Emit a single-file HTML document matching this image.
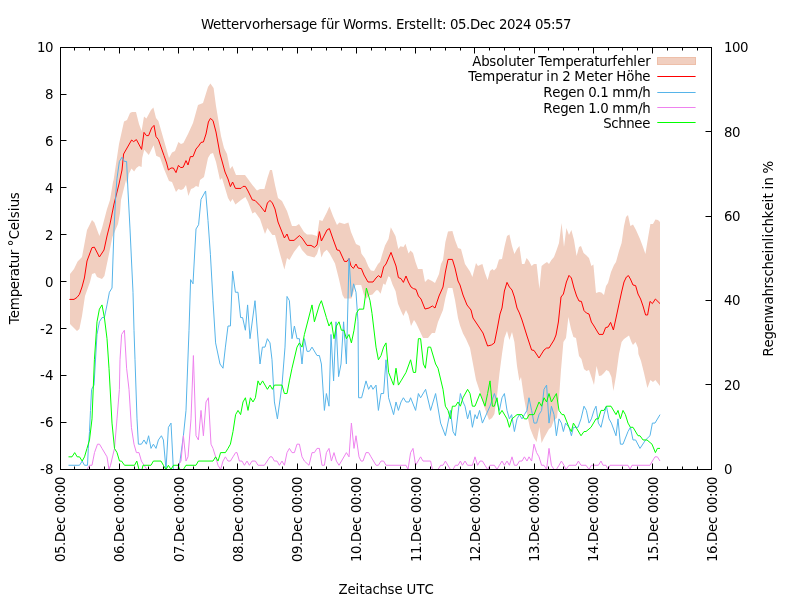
<!DOCTYPE html>
<html lang="de"><head><meta charset="utf-8"><title>Wettervorhersage für Worms</title>
<style>html,body{margin:0;padding:0;background:#fff;}svg{display:block;}text{font-family:"DejaVu Sans","Liberation Sans",sans-serif;font-size:13.33px;fill:#000;white-space:pre;}</style></head><body>
<svg width="800" height="600" viewBox="0 0 800 600">
<rect width="800" height="600" fill="#fff"/>
<clipPath id="c"><rect x="60.5" y="47.5" width="651.0" height="422.0"/></clipPath>
<g clip-path="url(#c)">
<polygon points="70.0,274.0 74.0,269.0 77.6,261.6 82.0,257.0 87.0,230.0 92.0,220.0 94.4,222.4 99.4,236.0 102.0,228.0 107.0,209.0 110.0,200.0 113.0,182.0 113.6,180.0 119.0,144.0 124.0,121.4 127.0,120.0 130.0,113.0 132.0,112.0 136.0,112.0 139.0,124.0 141.6,131.0 144.0,116.4 146.4,118.4 151.0,110.0 153.4,107.4 156.0,118.0 158.4,121.0 169.0,158.0 172.0,152.4 175.0,151.0 178.4,142.0 181.0,144.0 183.4,143.0 188.0,134.0 193.0,123.0 198.0,105.0 203.0,103.0 208.0,87.0 210.4,83.6 213.6,88.0 216.0,106.0 221.0,136.0 224.0,148.0 227.0,154.0 230.0,169.0 232.4,166.0 236.0,175.0 245.0,175.0 248.0,179.0 252.4,185.0 257.0,190.4 260.0,189.0 264.4,189.0 267.4,178.0 270.0,170.0 272.0,170.0 275.0,185.0 278.0,198.0 282.0,201.0 287.0,211.0 292.0,226.0 296.0,226.0 299.0,224.0 304.0,232.0 307.0,234.4 312.0,234.4 317.0,236.0 319.4,220.0 322.4,221.0 327.0,212.0 329.4,206.6 333.0,216.0 337.0,225.0 339.4,222.4 344.4,224.0 348.4,222.4 351.0,232.0 356.0,244.0 360.0,246.0 361.4,253.6 365.0,258.6 368.6,267.0 371.0,270.6 374.0,271.0 378.0,264.0 380.0,262.0 382.0,255.0 385.0,245.5 388.5,239.0 390.8,227.3 395.5,236.0 398.3,249.0 400.5,246.2 403.5,247.0 405.5,243.7 408.5,253.5 410.5,250.5 413.0,253.0 415.5,262.0 418.0,269.0 422.5,269.0 425.0,282.0 428.0,279.0 432.0,281.0 435.0,283.0 439.0,274.0 441.0,264.0 443.0,260.0 445.4,242.0 448.0,231.4 452.4,231.0 455.0,240.0 458.0,248.0 461.0,249.0 465.0,264.0 470.0,271.6 472.4,277.0 476.0,263.0 478.0,266.0 480.0,265.0 482.4,264.0 485.0,273.0 487.6,280.0 490.0,271.0 492.4,269.0 494.0,270.4 496.4,268.0 499.0,259.6 502.0,259.0 504.4,247.0 507.0,236.0 509.4,234.4 512.0,246.0 514.4,254.0 517.0,249.0 519.4,246.0 522.0,264.0 524.4,264.0 526.6,258.0 529.0,261.0 531.6,266.0 534.0,264.0 536.6,264.0 539.4,289.0 541.6,266.0 544.0,264.0 547.0,262.0 549.0,264.0 551.4,260.0 554.0,257.0 556.6,250.0 559.0,243.0 561.6,223.0 564.0,247.0 566.4,228.0 569.0,235.0 571.4,230.0 574.0,240.0 576.6,256.0 579.0,247.0 581.0,246.0 583.6,253.0 586.0,255.0 589.0,258.0 591.4,266.0 593.4,264.4 596.0,293.0 599.0,292.0 601.4,292.4 604.0,295.0 606.0,286.0 608.0,283.0 611.0,272.0 614.0,265.0 616.0,262.0 619.0,251.0 621.6,243.0 624.0,226.0 626.0,217.0 628.0,215.0 630.4,226.0 633.0,224.4 636.0,230.0 640.0,239.0 643.0,247.0 645.4,254.0 648.0,238.0 650.4,224.0 653.0,224.0 655.4,219.4 658.0,220.0 660.0,222.0 660.0,386.0 655.4,380.0 653.0,382.0 650.4,380.0 647.4,388.0 644.0,373.0 641.0,361.0 638.4,354.0 638.0,348.0 635.6,342.0 633.0,345.0 631.4,342.0 629.0,335.6 624.0,339.0 621.6,342.0 619.0,354.0 616.0,376.0 613.4,391.0 611.4,377.0 609.0,371.6 606.4,370.0 604.0,373.0 601.4,375.6 599.0,376.0 596.6,366.0 594.0,385.0 591.4,377.0 589.0,370.0 586.4,371.0 584.0,369.0 581.4,359.0 579.0,356.0 576.0,338.0 573.4,337.0 571.0,329.0 568.4,317.0 566.0,338.0 563.4,342.0 561.0,370.0 559.0,398.0 557.0,418.0 554.0,420.0 551.4,427.0 549.0,429.0 544.0,438.0 541.6,443.0 539.4,427.0 536.6,442.0 534.0,438.0 530.0,428.0 527.0,414.0 524.0,398.0 521.0,377.0 519.4,381.0 517.0,366.0 514.4,342.0 512.0,332.0 509.4,340.0 507.0,331.0 504.4,338.0 502.0,354.0 499.4,374.0 497.0,396.0 494.4,414.0 492.0,418.0 489.0,420.0 484.0,406.0 480.0,392.0 476.0,380.0 473.0,364.0 470.0,348.0 466.0,339.0 463.0,333.6 460.0,325.6 458.0,318.0 455.0,300.0 452.4,288.0 448.0,288.0 445.4,298.0 443.0,310.0 438.0,322.0 435.0,333.0 432.0,333.0 428.0,338.0 423.0,338.0 418.4,328.0 416.0,323.0 414.0,320.0 411.0,326.0 408.4,315.0 406.0,310.0 403.4,316.0 401.0,311.0 400.6,310.0 398.0,303.8 395.6,291.2 392.5,284.4 390.0,277.2 388.4,276.2 385.3,285.0 383.4,283.4 380.6,293.8 378.0,290.3 376.2,290.3 372.5,294.4 368.8,295.6 366.2,298.8 363.8,294.4 361.2,285.0 355.5,285.0 351.5,298.5 344.5,298.5 342.5,295.0 338.8,278.5 335.0,263.5 329.8,253.8 326.8,249.8 323.8,252.2 321.4,257.4 319.4,246.0 317.0,254.0 314.4,257.4 307.0,255.4 302.0,250.0 299.4,245.0 294.0,252.0 289.4,260.0 287.0,258.0 284.4,269.4 280.0,254.0 275.0,235.0 272.4,235.0 267.4,228.0 265.0,234.0 260.0,219.0 255.0,212.0 252.4,213.6 248.0,202.0 245.4,197.0 241.0,200.0 235.4,204.4 232.6,199.0 230.4,202.0 228.0,198.0 225.0,188.0 222.0,178.0 220.0,180.0 216.0,162.0 213.0,153.0 210.4,154.0 208.0,158.0 204.0,177.0 200.0,180.0 198.6,187.0 196.0,186.0 193.6,188.0 191.0,189.0 188.4,196.0 186.0,185.0 183.4,189.0 181.0,190.0 178.4,189.0 176.0,192.0 172.0,182.0 169.0,181.0 164.0,169.0 160.0,157.6 156.2,155.8 153.6,145.2 148.8,155.0 144.2,149.8 142.2,158.0 141.6,167.0 139.0,165.9 136.4,168.1 134.1,171.5 131.5,168.5 128.9,173.8 127.3,185.0 126.0,180.0 121.0,200.0 120.0,213.0 118.0,224.0 112.4,237.0 109.0,254.0 104.4,276.0 102.0,279.0 97.0,277.0 95.0,273.0 92.0,274.0 90.0,282.0 85.0,296.0 82.0,316.0 79.4,329.0 77.0,331.0 70.0,324.0" fill="#f1cfc0" stroke="none"/>
<polyline points="69.4,299.40 74.0,299.40 77.0,297.40 79.4,294.40 82.0,287.00 84.4,278.00 87.0,261.00 92.0,247.60 94.4,247.20 99.4,257.00 104.0,250.00 107.0,236.00 110.0,224.00 114.0,204.00 119.0,184.00 122.0,170.00 123.6,154.00 131.6,140.00 133.6,141.60 136.4,139.60 141.6,149.40 144.0,132.40 146.4,135.60 148.6,135.60 151.6,128.00 154.0,125.40 156.0,136.60 158.4,139.60 164.0,155.60 166.6,163.00 168.4,170.00 171.0,168.00 173.4,168.00 176.0,172.60 178.4,165.40 180.8,167.60 183.2,167.20 186.0,160.60 188.0,165.00 190.4,156.60 193.0,156.60 196.0,149.00 198.6,146.00 201.0,142.40 203.4,142.00 206.0,134.00 208.4,122.00 210.4,118.40 213.0,120.60 216.0,132.00 220.0,154.00 222.0,161.00 225.0,172.00 228.0,179.00 230.4,186.60 232.6,182.00 235.4,188.40 241.0,188.40 243.0,186.40 245.4,186.40 248.0,191.00 252.4,200.00 255.0,200.40 260.0,205.60 265.0,212.00 267.4,203.00 270.0,200.40 272.4,203.00 275.0,209.00 278.0,222.00 282.0,232.00 284.4,238.00 287.0,234.00 289.4,240.40 294.0,240.40 299.4,235.60 302.0,238.00 307.0,245.40 311.0,245.40 314.4,247.40 317.0,245.00 319.4,231.60 321.4,241.00 327.0,230.00 329.4,228.60 333.0,239.00 337.0,250.00 339.4,250.40 344.4,261.40 347.0,261.40 349.0,258.60 351.0,266.00 353.4,268.40 356.0,264.00 358.0,268.00 360.0,268.40 361.4,268.60 364.0,275.00 368.0,282.00 373.0,282.00 376.0,278.00 378.4,275.60 381.0,277.60 383.6,267.00 386.0,264.00 391.0,252.40 396.0,266.00 398.4,277.60 401.0,278.60 403.4,282.40 406.0,276.00 408.4,282.00 411.0,287.00 413.4,288.60 416.0,289.40 418.4,296.00 421.0,299.00 425.0,309.00 429.0,308.00 432.4,306.00 435.0,308.00 439.0,296.00 443.0,287.00 445.4,272.00 448.0,259.40 452.4,259.40 455.0,268.00 458.0,281.00 460.0,285.00 463.0,295.00 467.0,305.00 471.0,310.00 473.0,318.00 479.0,327.00 483.0,333.00 487.6,346.00 491.4,345.00 494.4,343.00 497.0,330.00 500.0,314.00 502.0,308.00 504.4,291.00 507.0,282.40 509.4,287.00 512.0,290.00 514.4,297.00 517.0,308.00 519.4,313.00 522.0,320.00 527.0,336.00 531.6,350.00 534.0,350.40 539.0,358.00 544.0,350.00 546.6,348.00 549.0,348.00 554.0,340.00 556.0,335.00 558.4,322.00 561.0,297.00 563.4,294.00 566.4,282.00 569.0,275.40 571.4,278.00 574.0,288.00 576.6,296.00 579.0,301.00 581.4,301.40 584.0,310.60 586.4,313.00 589.0,314.00 591.4,322.00 594.0,326.00 599.0,334.40 603.0,334.40 605.6,327.60 608.0,327.00 610.6,322.40 613.4,330.00 616.0,318.00 619.0,304.00 621.6,292.00 624.0,282.00 626.4,277.00 628.4,275.60 630.4,279.00 633.0,285.00 635.6,285.60 638.0,294.00 640.6,299.00 643.0,306.00 645.6,315.00 647.6,315.00 650.0,301.40 652.4,303.60 655.4,299.00 660.0,303.60" fill="none" stroke="#ff0000" stroke-width="1" stroke-linejoin="round"/>
<polyline points="68.5,465.28 79.5,465.28 82.2,461.06 84.5,465.28 87.5,465.28 88.3,448.40 89.5,431.52 90.5,410.42 91.6,389.32 94.0,385.10 97.0,334.46 99.4,321.80 102.0,317.58 104.4,317.58 107.0,304.92 109.4,292.26 112.0,288.04 114.0,228.96 116.0,190.98 117.0,178.32 119.4,161.44 122.0,157.22 124.4,161.44 126.6,161.44 128.0,190.98 130.0,228.96 133.0,292.26 134.0,330.24 135.0,359.78 137.0,418.86 138.4,444.18 141.4,444.18 144.0,439.96 146.4,444.18 148.6,435.74 151.0,448.40 153.4,444.18 156.0,448.40 158.4,439.96 161.4,435.74 163.4,439.96 166.0,469.50 168.4,427.30 171.0,423.08 173.4,469.50 178.0,469.50 180.0,461.06 183.4,435.74 186.0,410.42 189.0,330.24 190.6,279.60 193.0,283.82 196.0,228.96 198.6,224.74 201.0,199.42 205.6,190.98 208.0,220.52 210.4,254.28 213.0,300.70 215.6,342.90 220.0,364.00 223.0,368.22 225.4,347.12 228.0,326.02 230.4,326.02 232.6,271.16 235.4,292.26 238.0,292.26 240.6,317.58 242.6,317.58 245.4,330.24 247.6,304.92 250.0,338.68 255.0,300.70 260.0,364.00 262.4,347.12 265.0,347.12 267.4,338.68 270.0,342.90 272.0,359.78 274.4,401.98 277.4,418.86 282.0,385.10 285.0,347.12 287.0,296.48 289.4,300.70 292.0,338.68 294.4,326.02 297.0,338.68 299.4,338.68 302.0,364.00 304.4,338.68 307.0,351.34 309.4,351.34 312.0,347.12 317.0,355.56 319.4,355.56 321.4,364.00 324.4,410.42 326.4,393.54 329.0,406.20 331.0,334.46 333.6,380.88 336.0,321.80 338.6,376.66 341.0,364.00 343.6,321.80 346.4,364.00 349.0,258.50 351.4,296.48 353.6,283.82 356.0,292.26 358.0,321.80 358.6,397.76 361.6,397.76 366.0,380.88 368.6,389.32 371.0,385.10 373.0,389.32 376.0,385.10 378.4,410.42 381.0,393.54 383.6,393.54 386.0,359.78 388.6,397.76 393.6,414.64 396.0,401.98 398.4,410.42 401.0,401.98 403.4,397.76 406.0,401.98 409.0,401.98 410.6,397.76 415.6,410.42 418.4,393.54 420.6,397.76 425.6,389.32 430.6,410.42 435.6,393.54 440.6,423.08 445.4,435.74 450.4,410.42 453.0,431.52 455.4,435.74 460.4,393.54 463.0,401.98 465.0,406.20 467.6,418.86 470.0,410.42 472.4,427.30 475.0,414.64 477.0,418.86 479.6,410.42 482.4,423.08 490.0,406.20 494.4,393.54 497.0,401.98 499.4,410.42 502.0,397.76 504.4,393.54 507.0,410.42 509.4,418.86 511.6,414.64 514.4,431.52 517.0,418.86 519.4,414.64 522.0,418.86 524.4,414.64 527.0,410.42 529.0,397.76 531.6,410.42 534.0,423.08 536.6,423.08 539.0,414.64 541.6,410.42 544.0,389.32 546.6,385.10 549.0,423.08 551.4,406.20 554.0,414.64 556.4,435.74 559.0,418.86 561.4,423.08 563.4,431.52 565.6,423.08 569.0,427.30 571.4,435.74 573.4,427.30 578.0,427.30 581.0,418.86 584.0,406.20 586.4,410.42 589.0,423.08 591.4,418.86 594.0,410.42 596.0,406.20 598.4,423.08 601.0,427.30 604.0,414.64 606.4,406.20 609.0,418.86 611.4,423.08 616.0,435.74 618.0,418.86 620.4,444.18 623.0,444.18 628.0,431.52 630.4,427.30 633.0,439.96 635.6,439.96 640.0,448.40 645.6,439.96 650.0,435.74 652.4,423.08 655.0,423.08 660.0,414.64" fill="none" stroke="#56b4e9" stroke-width="1" stroke-linejoin="round"/>
<polyline points="68.5,469.50 87.0,469.50 89.5,465.28 92.0,465.28 94.5,452.62 97.5,444.18 99.5,444.18 102.0,448.40 107.0,456.84 109.0,469.50 110.5,465.28 114.5,448.40 117.0,418.86 119.4,389.32 120.0,359.78 121.6,334.46 124.4,330.24 126.6,368.22 129.0,389.32 131.4,427.30 134.0,444.18 136.4,452.62 139.0,452.62 141.4,461.06 144.0,465.28 147.0,469.50 178.0,469.50 178.4,465.28 181.0,461.06 183.4,435.74 186.0,461.06 188.0,456.84 191.0,418.86 193.4,355.56 196.0,435.74 198.4,439.96 201.0,410.42 203.4,435.74 206.0,401.98 208.4,397.76 211.0,444.18 213.0,448.40 215.6,456.84 218.0,465.28 220.6,469.50 223.0,461.06 225.4,456.84 228.0,461.06 230.4,461.06 233.0,456.84 235.6,452.62 237.0,452.62 239.4,461.06 242.0,461.06 244.4,465.28 247.0,461.06 249.4,465.28 252.0,461.06 255.4,461.06 258.0,465.28 264.4,465.28 270.0,456.84 272.0,456.84 274.4,461.06 277.0,461.06 279.4,465.28 282.0,461.06 284.4,465.28 287.0,452.62 289.4,448.40 292.0,452.62 294.4,452.62 297.0,444.18 299.4,444.18 302.0,456.84 304.4,461.06 309.0,465.28 312.0,452.62 314.4,452.62 317.0,448.40 319.4,448.40 322.0,465.28 324.4,465.28 326.4,452.62 329.0,448.40 331.4,461.06 334.0,452.62 336.4,461.06 339.0,465.28 346.4,452.62 349.0,456.84 351.4,423.08 354.0,448.40 356.0,435.74 359.0,456.84 361.0,461.06 363.0,461.06 366.0,452.62 368.6,452.62 371.0,456.84 376.0,465.28 378.4,465.28 381.0,461.06 383.6,461.06 386.0,465.28 406.0,465.28 408.0,469.50 410.6,452.62 413.0,448.40 415.6,465.28 420.6,456.84 423.0,461.06 430.6,461.06 432.4,469.50 438.0,469.50 440.6,465.28 443.0,465.28 445.4,461.06 450.4,469.50 453.0,469.50 455.4,465.28 458.0,465.28 460.4,461.06 462.4,465.28 465.0,461.06 467.6,465.28 472.4,465.28 475.0,456.84 477.6,465.28 480.0,461.06 482.4,461.06 485.0,465.28 487.6,469.50 490.0,465.28 494.4,465.28 497.0,469.50 499.4,465.28 502.0,461.06 504.4,465.28 507.0,461.06 509.4,465.28 512.0,456.84 514.4,465.28 517.0,465.28 519.4,461.06 522.0,461.06 524.4,456.84 527.0,461.06 529.0,456.84 531.6,461.06 534.0,444.18 536.6,452.62 539.0,456.84 541.6,465.28 544.0,465.28 546.6,469.50 549.0,448.40 551.4,465.28 554.0,469.50 556.4,469.50 559.0,465.28 561.4,461.06 564.0,465.28 566.0,469.50 569.0,465.28 576.0,465.28 578.4,461.06 581.0,465.28 586.0,465.28 589.0,469.50 591.4,465.28 598.4,465.28 601.0,461.06 603.0,465.28 606.0,465.28 608.0,469.50 610.0,465.28 628.0,465.28 630.0,469.50 632.0,465.28 640.0,465.28 650.0,465.28 652.4,461.06 655.0,456.84 657.4,456.84 660.0,461.06" fill="none" stroke="#ee82ee" stroke-width="1" stroke-linejoin="round"/>
<polyline points="68.5,456.84 72.0,456.84 74.7,452.62 77.2,456.84 79.5,456.84 82.2,461.06 84.5,456.84 87.0,448.40 89.5,439.96 92.0,418.86 94.4,359.78 97.0,321.80 99.4,309.14 102.0,304.92 104.4,317.58 107.0,338.68 109.0,368.22 112.0,423.08 114.5,448.40 117.0,452.62 119.5,461.06 121.5,461.06 124.5,465.28 134.5,465.28 136.8,461.06 139.0,469.50 142.0,469.50 143.0,465.28 151.0,465.28 153.4,461.06 161.0,461.06 163.4,465.28 166.0,469.50 168.4,465.28 171.0,469.50 173.4,465.28 178.0,465.28 180.0,469.50 183.4,469.50 186.0,465.28 196.0,465.28 198.4,461.06 213.0,461.06 215.6,456.84 218.0,461.06 220.6,452.62 225.4,452.62 228.0,448.40 230.4,444.18 233.0,431.52 235.6,414.64 238.0,410.42 240.6,414.64 243.0,401.98 245.4,397.76 248.0,410.42 250.4,397.76 253.0,401.98 255.4,397.76 258.0,380.88 260.0,385.10 262.6,380.88 267.4,389.32 270.0,385.10 272.4,389.32 274.4,385.10 282.0,385.10 284.4,393.54 287.0,393.54 289.4,380.88 292.0,368.22 297.0,347.12 299.4,342.90 302.0,347.12 304.4,334.46 312.0,304.92 314.4,321.80 319.4,304.92 321.4,300.70 326.4,317.58 329.0,326.02 331.4,321.80 334.0,338.68 336.4,326.02 339.0,321.80 341.4,330.24 344.0,330.24 346.4,338.68 349.0,334.46 351.4,342.90 354.0,330.24 356.4,313.36 359.0,309.14 363.6,309.14 366.4,288.04 370.0,300.70 372.0,313.36 376.0,347.12 378.4,359.78 381.0,355.56 383.6,347.12 386.0,342.90 388.6,372.44 393.6,385.10 396.0,368.22 398.4,385.10 401.0,380.88 406.0,372.44 410.6,359.78 413.4,372.44 415.6,372.44 418.4,338.68 420.6,338.68 423.4,364.00 425.4,368.22 428.0,347.12 430.6,347.12 435.6,364.00 438.0,368.22 443.0,389.32 445.4,406.20 448.0,410.42 450.4,418.86 452.4,406.20 455.4,406.20 458.0,401.98 460.4,406.20 463.0,397.76 467.6,389.32 470.0,393.54 472.4,406.20 475.0,406.20 480.0,393.54 485.0,406.20 487.6,393.54 490.0,380.88 492.4,406.20 494.4,406.20 497.0,397.76 499.4,414.64 502.0,410.42 507.0,418.86 509.4,427.30 512.0,418.86 517.0,414.64 522.0,414.64 524.4,418.86 527.0,418.86 529.0,414.64 534.0,414.64 539.0,401.98 541.6,406.20 544.0,397.76 546.6,401.98 549.0,393.54 551.4,401.98 556.4,393.54 559.0,410.42 562.0,414.64 564.0,414.64 569.0,427.30 571.4,431.52 573.4,423.08 576.0,427.30 581.0,435.74 584.0,431.52 586.0,431.52 591.0,427.30 596.0,418.86 598.4,418.86 601.0,410.42 604.0,410.42 606.4,406.20 611.0,406.20 616.0,414.64 618.0,410.42 620.4,418.86 623.0,410.42 625.4,414.64 628.0,423.08 630.4,427.30 633.0,427.30 638.0,435.74 640.0,435.74 643.0,439.96 647.0,439.96 652.0,444.18 655.4,452.62 657.4,448.40 660.0,448.40" fill="none" stroke="#00ff00" stroke-width="1" stroke-linejoin="round"/>
</g>
<path d="M60.50 469.5v-6M60.50 47.5v6M74.50 469.5v-3M74.50 47.5v3M89.50 469.5v-3M89.50 47.5v3M104.50 469.5v-3M104.50 47.5v3M119.50 469.5v-6M119.50 47.5v6M134.50 469.5v-3M134.50 47.5v3M148.50 469.5v-3M148.50 47.5v3M163.50 469.5v-3M163.50 47.5v3M178.50 469.5v-6M178.50 47.5v6M193.50 469.5v-3M193.50 47.5v3M208.50 469.5v-3M208.50 47.5v3M223.50 469.5v-3M223.50 47.5v3M237.50 469.5v-6M237.50 47.5v6M252.50 469.5v-3M252.50 47.5v3M267.50 469.5v-3M267.50 47.5v3M282.50 469.5v-3M282.50 47.5v3M297.50 469.5v-6M297.50 47.5v6M311.50 469.5v-3M311.50 47.5v3M326.50 469.5v-3M326.50 47.5v3M341.50 469.5v-3M341.50 47.5v3M356.50 469.5v-6M356.50 47.5v6M371.50 469.5v-3M371.50 47.5v3M385.50 469.5v-3M385.50 47.5v3M400.50 469.5v-3M400.50 47.5v3M415.50 469.5v-6M415.50 47.5v6M430.50 469.5v-3M430.50 47.5v3M445.50 469.5v-3M445.50 47.5v3M460.50 469.5v-3M460.50 47.5v3M474.50 469.5v-6M474.50 47.5v6M489.50 469.5v-3M489.50 47.5v3M504.50 469.5v-3M504.50 47.5v3M519.50 469.5v-3M519.50 47.5v3M534.50 469.5v-6M534.50 47.5v6M548.50 469.5v-3M548.50 47.5v3M563.50 469.5v-3M563.50 47.5v3M578.50 469.5v-3M578.50 47.5v3M593.50 469.5v-6M593.50 47.5v6M608.50 469.5v-3M608.50 47.5v3M622.50 469.5v-3M622.50 47.5v3M637.50 469.5v-3M637.50 47.5v3M652.50 469.5v-6M652.50 47.5v6M667.50 469.5v-3M667.50 47.5v3M682.50 469.5v-3M682.50 47.5v3M697.50 469.5v-3M697.50 47.5v3M711.50 469.5v-6M711.50 47.5v6M60.5 469.50h6M60.5 422.50h6M60.5 375.50h6M60.5 328.50h6M60.5 281.50h6M60.5 234.50h6M60.5 187.50h6M60.5 140.50h6M60.5 94.50h6M60.5 47.50h6M711.5 469.50h-6M711.5 384.50h-6M711.5 300.50h-6M711.5 216.50h-6M711.5 131.50h-6M711.5 47.50h-6" stroke="#000" stroke-width="1" fill="none"/>
<rect x="60.5" y="47.5" width="651.0" height="422.0" fill="none" stroke="#000" stroke-width="1"/>
<text x="37.0 45.0" y="51.9">10</text>
<text x="45.0" y="98.9">8</text>
<text x="45.0" y="145.9">6</text>
<text x="45.0" y="192.9">4</text>
<text x="45.0" y="239.9">2</text>
<text x="45.0" y="286.9">0</text>
<text x="40.0 45.0" y="333.9">-2</text>
<text x="40.0 45.0" y="379.9">-4</text>
<text x="40.0 45.0" y="426.9">-6</text>
<text x="40.0 45.0" y="473.9">-8</text>
<text x="724.1 732.1 740.1" y="51.9">100</text>
<text x="724.1 732.1" y="136.9">80</text>
<text x="724.1 732.1" y="220.9">60</text>
<text x="724.1 732.1" y="304.9">40</text>
<text x="724.1 732.1" y="389.9">20</text>
<text x="724.1" y="473.9">0</text>
<text transform="translate(64.9,477.1) rotate(-90)" x="-85.0 -77.0 -69.0 -65.0 -55.0 -47.0 -40.0 -36.0 -28.0 -20.0 -16.0 -8.0" y="0">05.Dec 00:00</text>
<text transform="translate(123.9,477.1) rotate(-90)" x="-85.0 -77.0 -69.0 -65.0 -55.0 -47.0 -40.0 -36.0 -28.0 -20.0 -16.0 -8.0" y="0">06.Dec 00:00</text>
<text transform="translate(183.9,477.1) rotate(-90)" x="-85.0 -77.0 -69.0 -65.0 -55.0 -47.0 -40.0 -36.0 -28.0 -20.0 -16.0 -8.0" y="0">07.Dec 00:00</text>
<text transform="translate(242.9,477.1) rotate(-90)" x="-85.0 -77.0 -69.0 -65.0 -55.0 -47.0 -40.0 -36.0 -28.0 -20.0 -16.0 -8.0" y="0">08.Dec 00:00</text>
<text transform="translate(301.9,477.1) rotate(-90)" x="-85.0 -77.0 -69.0 -65.0 -55.0 -47.0 -40.0 -36.0 -28.0 -20.0 -16.0 -8.0" y="0">09.Dec 00:00</text>
<text transform="translate(360.9,477.1) rotate(-90)" x="-85.0 -77.0 -69.0 -65.0 -55.0 -47.0 -40.0 -36.0 -28.0 -20.0 -16.0 -8.0" y="0">10.Dec 00:00</text>
<text transform="translate(420.9,477.1) rotate(-90)" x="-85.0 -77.0 -69.0 -65.0 -55.0 -47.0 -40.0 -36.0 -28.0 -20.0 -16.0 -8.0" y="0">11.Dec 00:00</text>
<text transform="translate(479.9,477.1) rotate(-90)" x="-85.0 -77.0 -69.0 -65.0 -55.0 -47.0 -40.0 -36.0 -28.0 -20.0 -16.0 -8.0" y="0">12.Dec 00:00</text>
<text transform="translate(538.9,477.1) rotate(-90)" x="-85.0 -77.0 -69.0 -65.0 -55.0 -47.0 -40.0 -36.0 -28.0 -20.0 -16.0 -8.0" y="0">13.Dec 00:00</text>
<text transform="translate(597.9,477.1) rotate(-90)" x="-85.0 -77.0 -69.0 -65.0 -55.0 -47.0 -40.0 -36.0 -28.0 -20.0 -16.0 -8.0" y="0">14.Dec 00:00</text>
<text transform="translate(657.9,477.1) rotate(-90)" x="-85.0 -77.0 -69.0 -65.0 -55.0 -47.0 -40.0 -36.0 -28.0 -20.0 -16.0 -8.0" y="0">15.Dec 00:00</text>
<text transform="translate(716.9,477.1) rotate(-90)" x="-85.0 -77.0 -69.0 -65.0 -55.0 -47.0 -40.0 -36.0 -28.0 -20.0 -16.0 -8.0" y="0">16.Dec 00:00</text>
<text x="201.0 213.0 221.0 226.0 231.0 239.0 244.0 252.0 260.0 265.0 273.0 281.0 286.0 293.0 301.0 309.0 317.0 321.0 326.0 334.0 339.0 343.0 355.0 363.0 368.0 381.0 388.0 392.0 396.0 404.0 409.0 416.0 421.0 429.0 433.0 437.0 442.0 446.0 450.0 458.0 466.0 470.0 480.0 488.0 495.0 499.0 507.0 515.0 523.0 531.0 535.0 543.0 551.0 555.0 563.0" y="28.7">Wettervorhersage für Worms. Erstellt: 05.Dec 2024 05:57</text>
<text x="338.5 347.5 355.5 359.5 364.5 372.5 379.5 387.5 394.5 402.5 406.5 416.5 424.5" y="593.8">Zeitachse UTC</text>
<text transform="translate(19.0,258.3) rotate(-90)" x="-66.0 -60.0 -52.0 -39.0 -31.0 -23.0 -18.0 -10.0 -5.0 3.0 8.0 12.0 19.0 28.0 36.0 40.0 47.0 51.0 59.0" y="0">Temperatur °Celsius</text>
<text transform="translate(773.0,258.4) rotate(-90)" x="-98.0 -89.0 -81.0 -73.0 -65.0 -57.0 -46.0 -38.0 -30.0 -25.0 -18.0 -11.0 -3.0 5.0 9.0 17.0 21.0 25.0 32.0 40.0 48.0 56.0 60.0 65.0 69.0 73.0 81.0 85.0" y="0">Regenwahrscheinlichkeit in %</text>
<text x="472.2 481.2 489.2 496.2 504.2 508.2 516.2 521.2 529.2 534.2 538.2 544.2 552.2 565.2 573.2 581.2 586.2 594.2 599.2 607.2 612.2 617.2 625.2 633.2 637.2 645.2" y="65.8">Absoluter Temperaturfehler</text>
<rect x="657.5" y="57.5" width="38" height="7" fill="#f1cfc0" stroke="#eebfa9" stroke-width="1"/>
<text x="468.2 474.2 482.2 495.2 503.2 511.2 516.2 524.2 529.2 537.2 542.2 546.2 550.2 558.2 562.2 570.2 574.2 586.2 594.2 599.2 607.2 612.2 616.2 626.2 634.2 642.2" y="81.4">Temperatur in 2 Meter Höhe</text>
<path d="M657.3 76.5h38.3" stroke="#ff0000" stroke-width="1" fill="none"/>
<text x="543.2 552.2 560.2 568.2 576.2 584.2 588.2 596.2 600.2 608.2 612.2 625.2 638.2 642.2" y="97.0">Regen 0.1 mm/h</text>
<path d="M657.3 92.5h38.3" stroke="#56b4e9" stroke-width="1" fill="none"/>
<text x="543.2 552.2 560.2 568.2 576.2 584.2 588.2 596.2 600.2 608.2 612.2 625.2 638.2 642.2" y="112.6">Regen 1.0 mm/h</text>
<path d="M657.3 107.5h38.3" stroke="#ee82ee" stroke-width="1" fill="none"/>
<text x="603.2 611.2 618.2 626.2 634.2 642.2" y="128.2">Schnee</text>
<path d="M657.3 122.5h38.3" stroke="#00ff00" stroke-width="1" fill="none"/>
</svg></body></html>
